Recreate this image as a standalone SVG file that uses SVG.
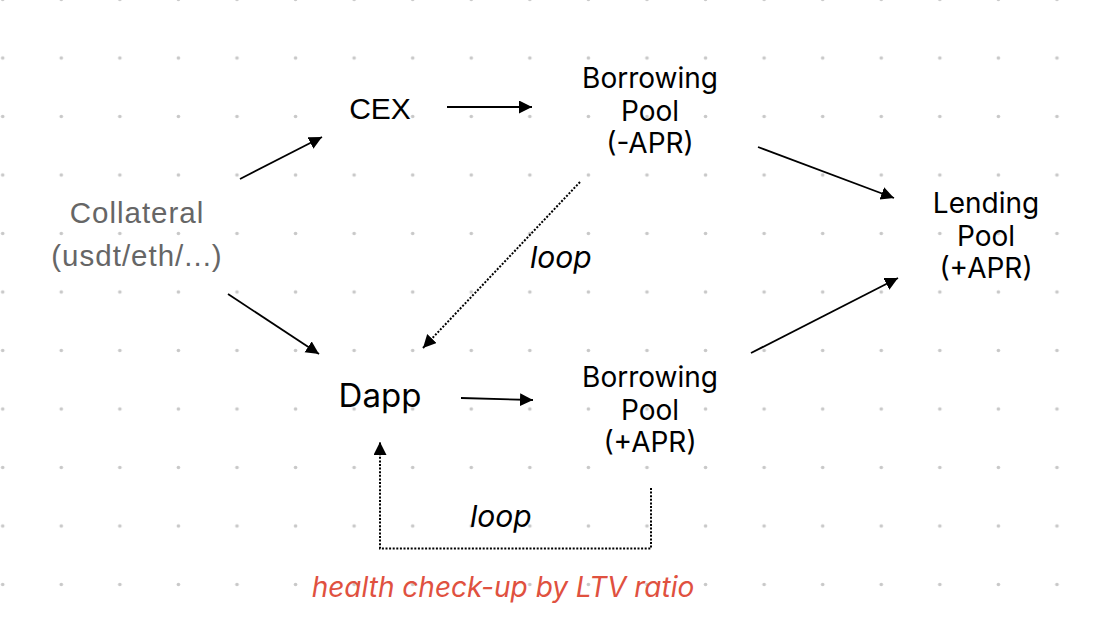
<svg xmlns="http://www.w3.org/2000/svg" width="1100" height="634" viewBox="0 0 1100 634">
<style>
.lbl{font-family:Inter,"Liberation Sans",sans-serif;fill:#000;text-anchor:middle}
.pool{font-size:28px}
.coll{font-family:"Liberation Sans",Arial,sans-serif;font-size:29.5px;fill:#666;text-anchor:middle;letter-spacing:1px}
.loop{font-family:Inter,"Liberation Sans",sans-serif;font-style:italic;font-size:30px;fill:#000}
.note{font-family:Inter,"Liberation Sans",sans-serif;font-style:italic;font-size:28px;fill:#e0513f;text-anchor:middle}
.edge{stroke:#000;stroke-width:1.8;fill:none}
.dot{stroke:#000;stroke-width:2;fill:none;stroke-dasharray:2 1.6}
</style>
<defs>
<pattern id="grid" patternUnits="userSpaceOnUse" x="-26.58" y="-29.75" width="58.57" height="58.5">
<circle cx="29.285" cy="29.25" r="1.8" fill="#c8c8c8"/>
</pattern>
<marker id="ah" markerUnits="userSpaceOnUse" markerWidth="14" markerHeight="14" refX="13" refY="6.5" orient="auto">
<path d="M0,0 L13,6.5 L0,13 z" fill="#000"/>
</marker>
</defs>
<rect width="1100" height="634" fill="#fff"/>
<rect width="1100" height="634" fill="url(#grid)"/>
<g id="connectors">
<line class="edge" x1="240" y1="179" x2="322" y2="137" marker-end="url(#ah)"/>
<line class="edge" x1="447" y1="107" x2="532" y2="107" marker-end="url(#ah)"/>
<line class="edge" x1="228" y1="294" x2="319" y2="354" marker-end="url(#ah)"/>
<line class="dot" x1="580" y1="182" x2="423" y2="348" marker-end="url(#ah)"/>
<line class="edge" x1="461" y1="398" x2="533" y2="400" marker-end="url(#ah)"/>
<line class="edge" x1="758" y1="147" x2="894" y2="198" marker-end="url(#ah)"/>
<line class="edge" x1="751" y1="353" x2="898" y2="278" marker-end="url(#ah)"/>
<polyline class="dot" points="651,488 651,548.5 380,548.5 380,442" marker-end="url(#ah)"/>
</g>
<g id="collateral"><text class="coll" x="137" y="223">Collateral</text><text class="coll" x="137" y="266">(usdt/eth/...)</text></g>
<g id="cex"><text class="lbl" x="380" y="119" style="font-family:'Liberation Sans',Arial,sans-serif;font-size:30px">CEX</text></g>
<g id="dapp"><text class="lbl" x="380" y="407" style="font-size:33px">Dapp</text></g>
<g id="borrow-neg"><text class="lbl pool" x="650" y="88">Borrowing</text><text class="lbl pool" x="650" y="120.5">Pool</text><text class="lbl pool" x="650" y="153">(-APR)</text></g>
<g id="borrow-pos"><text class="lbl pool" x="650" y="387">Borrowing</text><text class="lbl pool" x="650" y="419.5">Pool</text><text class="lbl pool" x="650" y="452">(+APR)</text></g>
<g id="lending"><text class="lbl pool" x="986" y="213">Lending</text><text class="lbl pool" x="986" y="245.5">Pool</text><text class="lbl pool" x="986" y="278">(+APR)</text></g>
<g id="labels">
<text class="loop" x="530" y="268">loop</text>
<text class="loop" x="470" y="527">loop</text>
<text class="note" x="503" y="597">health check-up by LTV ratio</text>
</g>
</svg>
